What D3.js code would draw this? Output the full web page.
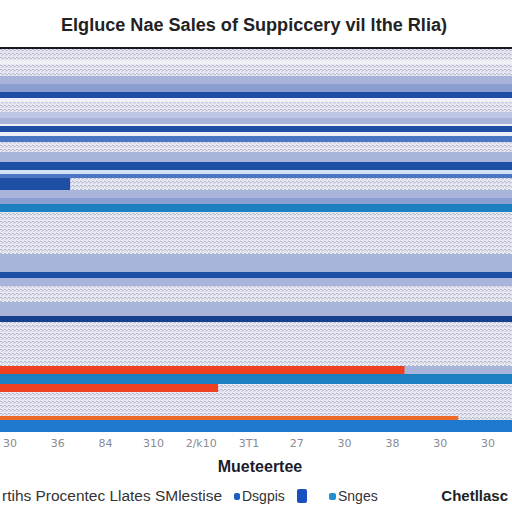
<!DOCTYPE html>
<html><head><meta charset="utf-8">
<script src="https://cdn.jsdelivr.net/npm/d3@7"></script>
<style>html,body{margin:0;padding:0;background:#fff}svg{display:block}</style>
</head><body>
<script>
// ---- data ----
const titleText = "Elgluce Nae Sales of Suppiccery vil lthe Rlia)";
const xAxisTitle = "Mueteertee";
const tickLabels = ["30","36","84","310","2/k10","3T1","27","30","38","30","30"];
const bandSeries = ["T","W","T","L","LB","D","W","T","L2","L","W","D","W","B","T","L","D","C","B","D","L","LB","Tl","T","L","D","L","T","L","N","T","R","Tl","R","T","O","Bl"];
const bandSpan   = [6,2,6,4,4,3,2,5,3,3,1,3,2,3,5,5,4,2,2,6,4,3,4,21,9,3,4,8,7,3,22,4,5,4,12,2,6];
const bandValue  = [100,100,100,100,100,100,100,100,100,100,100,100,100,100,100,100,100,100,100,13.7,100,100,100,100,100,100,100,100,100,100,100,79,100,42.6,100,89.5,100];
const bandRest   = [null,null,null,null,null,null,null,null,null,null,null,null,null,null,null,null,null,null,null,"T",null,null,null,null,null,null,null,null,null,null,null,"L",null,"T",null,"T",null];
const seriesKeys  = ["T","W","L","L2","LB","D","B","C","N","Tl","R","O","Bl"];
const seriesColor = ["url(#tex)","#eef0f6","#a8b4da","#bdc6e4","#8b9ed2","#1e4fa5","#4a76c4","#d2e2f3","#143f8c","#1b7fc0","#ef4122","#ee6a2a","#1e79cf"];
const legendLead = "rtihs Procentec Llates SMlestise";
const legendNames = ["Dsgpis","","Snges"];
const legendColors = ["#1a5fc0","#1a4fc0","#1e8fd0"];
const legendRight = "Chetllasc";

// ---- chart ----
const W = 512, H = 512;
const svg = d3.select("body").append("svg").attr("width", W).attr("height", H);
const defs = svg.append("defs");
const pat = defs.append("pattern").attr("id","tex").attr("width",4).attr("height",4).attr("patternUnits","userSpaceOnUse");
pat.append("rect").attr("width",4).attr("height",4).attr("fill","#e7e8f1");
pat.append("rect").attr("x",0).attr("y",1).attr("width",2).attr("height",1).attr("fill","#b4b8cc");
pat.append("rect").attr("x",2).attr("y",2).attr("width",2).attr("height",1).attr("fill","#c0c3d4");
pat.append("rect").attr("x",1).attr("y",3).attr("width",2).attr("height",1).attr("fill","#d3d6e3");

const color = d3.scaleOrdinal().domain(seriesKeys).range(seriesColor);

const plot = {left:0, right:512, top:48, bottom:432};
const totalUnits = d3.sum(bandSpan);
const y = d3.scaleLinear().domain([0,totalUnits]).range([plot.top, plot.bottom]);
const x = d3.scaleLinear().domain([0,100]).range([plot.left, plot.right]);

const starts = []; let acc = 0;
bandSpan.forEach(s => { starts.push(acc); acc += s; });
const bands = bandSeries.map((s,i) => ({s, start:starts[i], span:bandSpan[i], v:bandValue[i], rest:bandRest[i]}));

const g = svg.append("g");
g.selectAll("rect.rest").data(bands.filter(b => b.rest)).join("rect").attr("class","rest")
  .attr("x", x(0)).attr("width", x(100)-x(0))
  .attr("y", d => y(d.start)).attr("height", d => y(d.start+d.span)-y(d.start))
  .attr("fill", d => color(d.rest));
g.selectAll("rect.bar").data(bands).join("rect").attr("class","bar")
  .attr("x", x(0)).attr("width", d => x(d.v)-x(0))
  .attr("y", d => y(d.start)).attr("height", d => y(d.start+d.span)-y(d.start))
  .attr("fill", d => color(d.s));

// top border line
svg.append("line").attr("x1",0).attr("x2",W).attr("y1",plot.top).attr("y2",plot.top)
  .attr("stroke","#1a1a22").attr("stroke-width",2);

// title
svg.append("text").attr("x",254).attr("y",31).attr("text-anchor","middle")
  .attr("font-family","Liberation Sans, Arial, sans-serif").attr("font-weight","bold")
  .attr("font-size",18).attr("fill","#222").attr("textLength",386).attr("lengthAdjust","spacingAndGlyphs")
  .text(titleText);

// x tick labels
const xt = d3.scaleLinear().domain([0, tickLabels.length-1]).range([10, 488]);
svg.append("g").selectAll("text").data(tickLabels).join("text")
  .attr("x",(d,i)=>xt(i)).attr("y",447).attr("text-anchor","middle")
  .attr("font-family","DejaVu Sans, sans-serif").attr("font-size",11).attr("fill","#8a8a94")
  .text(d=>d);

svg.append("text").attr("x",260).attr("y",472).attr("text-anchor","middle")
  .attr("font-family","Liberation Sans, Arial, sans-serif").attr("font-weight","bold")
  .attr("font-size",16).attr("fill","#1c1c2c").text(xAxisTitle);

// legend
const ly = 501;
svg.append("text").attr("x",2).attr("y",ly).attr("font-family","Liberation Sans, Arial, sans-serif")
  .attr("font-size",14).attr("fill","#333").attr("textLength",220).attr("lengthAdjust","spacingAndGlyphs").text(legendLead);
const lx = [234, 297, 329];
const lw = [6, 10, 7];
svg.append("g").selectAll("rect").data(legendColors).join("rect")
  .attr("x",(d,i)=>lx[i]).attr("y",(d,i)=> i===1 ? 489 : 493).attr("width",(d,i)=>lw[i]).attr("height",(d,i)=> i===1 ? 14 : 7)
  .attr("rx",2).attr("fill",d=>d);
svg.append("g").selectAll("text").data(legendNames).join("text")
  .attr("x",(d,i)=>lx[i]+lw[i]+2).attr("y",ly)
  .attr("font-family","Liberation Sans, Arial, sans-serif").attr("font-size",14).attr("fill","#333").text(d=>d);
svg.append("text").attr("x",508).attr("y",ly).attr("text-anchor","end").attr("font-family","Liberation Sans, Arial, sans-serif")
  .attr("font-weight","bold").attr("font-size",15).attr("fill","#222").text(legendRight);
</script>
</body></html>
